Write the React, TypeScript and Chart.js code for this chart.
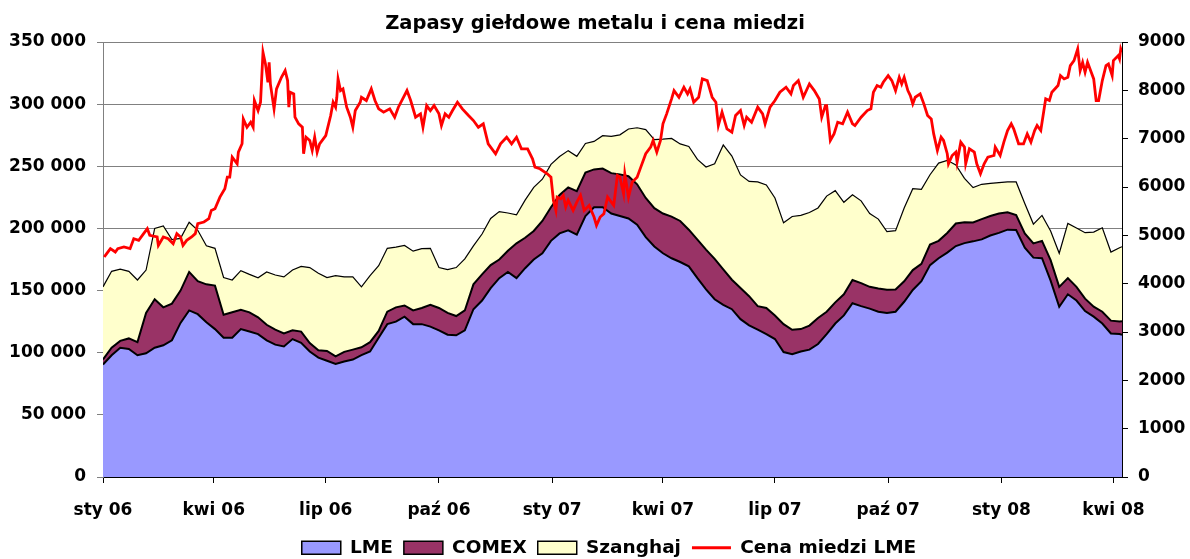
import { useEffect, useRef } from 'react';
import { Chart, registerables } from 'chart.js';

Chart.register(...registerables);

const TITLE = 'Zapasy giełdowe metalu i cena miedzi';

// x axis: days since 1 Jan 2006
const tickDays = [0, 90, 181, 273, 365, 455, 546, 638, 730, 821];
const tickLabels = ['sty 06', 'kwi 06', 'lip 06', 'paź 06', 'sty 07', 'kwi 07', 'lip 07', 'paź 07', 'sty 08', 'kwi 08'];

// weekly stock observations (days since 1 Jan 2006)
const stockDays = [
  0, 7, 14, 21, 28, 35, 42, 49, 56, 63, 70, 77, 84, 91, 98, 105, 112, 119, 126, 133,
  140, 147, 154, 161, 168, 175, 182, 189, 196, 203, 210, 217, 224, 231, 238, 245, 252, 259, 266, 273,
  280, 287, 294, 301, 308, 315, 322, 329, 336, 343, 350, 357, 364, 371, 378, 385, 392, 399, 406, 413,
  420, 427, 434, 441, 448, 455, 462, 469, 476, 483, 490, 497, 504, 511, 518, 525, 532, 539, 546, 553,
  560, 567, 574, 581, 588, 595, 602, 609, 616, 623, 630, 637, 644, 651, 658, 665, 672, 679, 686, 693,
  700, 707, 714, 721, 728, 735, 742, 749, 756, 763, 770, 777, 784, 791, 798, 805, 812, 819, 826, 828,
];

const lme = [
  90500, 98000, 104000, 103000, 98000, 99500, 104000, 106000, 110000, 124000,
  134000, 131000, 124500, 119000, 112000, 112000, 119000, 117000, 115000, 110000,
  106500, 105000, 111000, 108000, 101000, 96000, 93500, 91000, 93000, 94500,
  98000, 101000, 112000, 123000, 125000, 129000, 123000, 123000, 121000, 118000,
  114500, 114000, 118000, 135000, 142000, 152000, 160000, 165000, 160000, 168000,
  175000, 180000, 190000, 196000, 198500, 195000, 210000, 217000, 217000, 212000,
  210000, 208000, 203000, 193000, 185500, 180000, 176000, 173000, 169500, 160000,
  151000, 143000, 138500, 135000, 127000, 122000, 118500, 115000, 111000, 100500,
  98800, 101000, 102500, 107000, 115000, 123500, 130000, 139800, 137500, 135500,
  133000, 132000, 133000, 141000, 150500, 157500, 170500, 176000, 180500, 185800,
  188200, 189600, 191200, 194300, 196400, 199000, 198700, 184500, 176500, 176000,
  158000, 137000, 147000, 142000, 133500, 129000, 123500, 115500, 115000, 114400,
];

const comex = [
  4100, 6000, 5500, 8500, 10500, 32500, 39000, 30500, 29500, 26000,
  31000, 26500, 30500, 35000, 18500, 20500, 15500, 15500, 13500, 12500,
  12000, 10500, 7000, 9000, 6700, 6000, 7900, 6000, 7700, 8000,
  6400, 7500, 5500, 10000, 11500, 9000, 11000, 13000, 17500, 18000,
  17500, 15500, 16000, 20000, 21000, 18500, 15000, 17000, 28000, 24500,
  23000, 26000, 27000, 31000, 34500, 35000, 35000, 30500, 31200, 32500,
  33500, 34000, 32500, 31500, 30800, 32000, 33500, 33000, 29500, 31000,
  32000, 32500, 28500, 23700, 25000, 23500, 19000, 21000, 19000, 22500,
  19600, 18000, 19300, 21000, 18000, 17000, 17000, 18700, 18500, 17500,
  18600, 18700, 17800, 16500, 16000, 14000, 16500, 14000, 15800, 18200,
  16800, 15200, 16300, 15700, 15600, 14000, 12000, 11500, 11500, 14000,
  16500, 16000, 13000, 11000, 10000, 8000, 9500, 10300, 10200, 11000,
];

const szanghaj = [
  58400, 61500, 57800, 54000, 50000, 34500, 57000, 65500, 51500, 42000,
  40000, 41000, 31000, 30000, 30000, 26000, 31500, 30500, 31800, 42500,
  44000, 45500, 48500, 52500, 60800, 62000, 59100, 65000, 60300, 58500,
  48600, 53500, 52500, 51000, 48500, 48300, 47700, 47700, 45500, 32500,
  34800, 39000, 41500, 31000, 32500, 37500, 38500, 30400, 23000, 30300,
  35000, 33600, 34500, 30800, 29600, 28000, 23400, 22500, 26400, 29500,
  31800, 38000, 45500, 55000, 55200, 59800, 62900, 62000, 67000, 64500,
  66400, 76500, 100200, 99500, 91000, 92300, 99900, 99000, 94500, 81500,
  91200, 91500, 91000, 88500, 93000, 89900, 74000, 68500, 66200, 59000,
  55900, 46800, 47400, 59000, 65500, 60000, 56200, 62600, 58500, 47000,
  35300, 28000, 28000, 26300, 24900, 24400, 26700, 24000, 15500, 20500,
  23500, 27000, 44000, 47400, 53100, 60000, 67500, 55200, 59300, 59900,
];

// LME copper price (USD/t), days since 1 Jan 2006
const priceDays = [
  1, 3, 6, 10, 12, 17, 22, 25, 29, 33, 36, 38, 44, 45, 49, 53, 57, 60, 63, 65,
  68, 72, 75, 77, 82, 86, 88, 91, 95, 99, 101, 103, 105, 109, 110, 113, 114, 117, 120, 122,
  123, 126, 128, 130, 132, 134, 135, 136, 139, 141, 145, 148, 150, 151, 152, 155, 156, 159, 162, 163,
  165, 168, 170, 172, 174, 176, 181, 185, 187, 189, 190, 191, 193, 195, 198, 201, 203, 205, 209, 210,
  214, 218, 221, 224, 228, 233, 237, 240, 247, 250, 254, 258, 260, 263, 266, 269, 273, 275, 278, 281,
  284, 288, 292, 297, 301, 305, 309, 313, 319, 323, 328, 332, 336, 340, 345, 349, 351, 355, 361, 364,
  366, 368, 369, 372, 374, 376, 378, 382, 385, 388, 391, 395, 399, 401, 404, 407, 410, 412, 415, 418,
  420, 423, 424, 427, 430, 434, 437, 441, 445, 447, 450, 453, 455, 458, 462, 464, 468, 472, 475, 477,
  480, 484, 487, 491, 495, 498, 500, 503, 507, 511, 514, 518, 521, 523, 527, 532, 536, 538, 542, 546,
  550, 555, 559, 561, 565, 569, 574, 578, 582, 584, 587, 588, 591, 594, 597, 601, 605, 609, 611, 616,
  621, 624, 626, 629, 632, 634, 638, 641, 644, 647, 649, 651, 654, 656, 658, 660, 664, 667, 670, 673,
  675, 678, 681, 683, 686, 687, 690, 693, 694, 697, 700, 701, 704, 708, 710, 713, 716, 719, 724, 725,
  729, 732, 735, 738, 740, 744, 748, 751, 754, 757, 759, 762, 766, 769, 771, 776, 778, 781, 784, 786,
  789, 792, 794, 796, 798, 800, 803, 805, 807, 809, 812, 815, 817, 820, 821, 825, 826, 827, 828,
];

const priceLME = [
  4551, 4621, 4725, 4655, 4725, 4759, 4725, 4931, 4897, 5035, 5138, 5000, 4966, 4793, 4966, 4931, 4828, 5035, 4966, 4793,
  4897, 4966, 5035, 5241, 5276, 5345, 5516, 5551, 5791, 5964, 6204, 6204, 6618, 6481, 6721, 6894, 7410, 7237, 7341, 7237,
  7789, 7582, 7754, 8787, 8547, 8167, 8580, 8134, 7617, 8030, 8270, 8409, 8202, 7651, 7961, 7926, 7444, 7307, 7237, 6688,
  7030, 6962, 6756, 7030, 6721, 6894, 7065, 7479, 7754, 7651, 7857, 8236, 7995, 8030, 7651, 7444, 7237, 7582, 7754, 7857,
  7789, 8030, 7789, 7617, 7548, 7617, 7444, 7651, 7995, 7789, 7444, 7513, 7237, 7685, 7582, 7685, 7513, 7272, 7513, 7444,
  7582, 7754, 7617, 7479, 7375, 7237, 7307, 6894, 6688, 6894, 7030, 6894, 7030, 6790, 6790, 6584, 6412, 6377, 6274, 6204,
  5723, 5516, 5791, 5757, 5826, 5585, 5723, 5516, 5688, 5826, 5516, 5620, 5379, 5206, 5379, 5448, 5791, 5723, 5620, 6239,
  6204, 5860, 6274, 5791, 6101, 6204, 6411, 6688, 6825, 6962, 6721, 6962, 7307, 7513, 7824, 7995, 7857, 8064, 7926, 8030,
  7754, 7857, 8236, 8202, 7857, 7754, 7272, 7548, 7203, 7134, 7479, 7582, 7272, 7444, 7341, 7651, 7513, 7307, 7651, 7789,
  7961, 8064, 7926, 8099, 8202, 7857, 8133, 7995, 7822, 7444, 7685, 7685, 6962, 7099, 7341, 7307, 7548, 7307, 7272, 7444,
  7582, 7617, 7961, 8099, 8064, 8167, 8305, 8202, 7995, 8270, 8133, 8270, 7995, 7892, 7720, 7857, 7926, 7720, 7479, 7410,
  7099, 6756, 7030, 6962, 6688, 6481, 6652, 6721, 6515, 6928, 6825, 6481, 6790, 6721, 6481, 6274, 6481, 6618, 6652, 6825,
  6652, 6928, 7168, 7307, 7203, 6894, 6894, 7099, 6928, 7168, 7272, 7168, 7824, 7789, 7961, 8099, 8305, 8236, 8270, 8512,
  8615, 8857, 8409, 8580, 8374, 8580, 8374, 8236, 7789, 7789, 8202, 8512, 8547, 8305, 8615, 8719, 8650, 8857, 8787,
];

const FONT = "'DejaVu Sans', 'Liberation Sans', sans-serif";

const fmtThousands = (v: number) => String(v).replace(/\B(?=(\d{3})+(?!\d))/g, ' ');

export default function App() {
  const canvasRef = useRef<HTMLCanvasElement | null>(null);

  useEffect(() => {
    document.body.style.margin = '0';
    const canvas = canvasRef.current;
    if (!canvas) return;

    const toXY = (xs: number[], ys: number[]) => xs.map((x, i) => ({ x, y: ys[i] }));

    const shiftLegend = {
      id: 'shiftLegend',
      afterLayout(chart: any) {
        const lg = chart.legend;
        if (lg) {
          lg.left += 14;
          lg.right += 14;
        }
      },
    };

    const chart = new Chart(canvas, {
      type: 'line',
      data: {
        datasets: [
          {
            label: 'LME',
            data: toXY(stockDays, lme),
            yAxisID: 'y',
            backgroundColor: '#9999FF',
            borderColor: '#000000',
            borderWidth: 2,
            fill: 'origin',
            pointRadius: 0,
            tension: 0,
            order: 1,
          },
          {
            label: 'COMEX',
            data: toXY(stockDays, comex),
            yAxisID: 'y',
            backgroundColor: '#993366',
            borderColor: '#000000',
            borderWidth: 2,
            fill: '-1',
            pointRadius: 0,
            tension: 0,
            order: 2,
          },
          {
            label: 'Szanghaj',
            data: toXY(stockDays, szanghaj),
            yAxisID: 'y',
            backgroundColor: '#FFFFCC',
            borderColor: '#000000',
            borderWidth: 1.2,
            fill: '-1',
            pointRadius: 0,
            tension: 0,
            order: 3,
          },
          {
            label: 'Cena miedzi LME',
            data: toXY(priceDays, priceLME),
            yAxisID: 'y2',
            backgroundColor: '#FF0000',
            borderColor: '#FF0000',
            borderWidth: 2.8,
            fill: false,
            pointRadius: 0,
            tension: 0,
            order: 0,
          },
        ],
      } as any,
      options: {
        animation: false,
        responsive: false,
        maintainAspectRatio: false,
        devicePixelRatio: 1,
        layout: { padding: { left: 0, right: 0, top: 0, bottom: -8 } },
        plugins: {
          title: {
            display: true,
            text: TITLE,
            color: '#000000',
            font: { family: FONT, weight: 'bold', size: 19.5 },
            padding: { top: 12, bottom: 6.6 },
          },
          legend: {
            display: true,
            position: 'bottom',
            labels: {
              usePointStyle: true,
              pointStyleWidth: 39,
              boxHeight: 13,
              padding: 11,
              color: '#000000',
              font: { family: FONT, weight: 'bold', size: 18.5 },
              generateLabels: (c: any) =>
                c.data.datasets.map((ds: any, i: number) => ({
                  text: ds.label,
                  fillStyle: ds.backgroundColor,
                  strokeStyle: ds.borderColor,
                  lineWidth: i === 3 ? 3 : 1.5,
                  pointStyle: i === 3 ? 'line' : 'rect',
                  hidden: false,
                  datasetIndex: i,
                  fontColor: '#000000',
                })),
            },
          },
          tooltip: { enabled: false },
        },
        scales: {
          x: {
            type: 'linear',
            min: 0,
            max: 828,
            offset: false,
            afterBuildTicks: (s: any) => {
              s.ticks = tickDays.map((v) => ({ value: v }));
            },
            afterFit: (s: any) => {
              s.height = 50.5;
            },
            ticks: {
              autoSkip: false,
              maxRotation: 0,
              minRotation: 0,
              padding: 17,
              color: '#000000',
              font: { family: FONT, weight: 'bold', size: 17 },
              callback: (_v: any, i: number) => tickLabels[i],
            },
            grid: { drawOnChartArea: false, drawTicks: true, tickLength: 6, color: '#000000', lineWidth: 1 },
            border: { display: true, color: '#000000', width: 1 },
          },
          y: {
            position: 'left',
            stacked: true,
            min: 0,
            max: 350000,
            afterFit: (s: any) => {
              s.width = 103;
            },
            ticks: {
              stepSize: 50000,
              padding: 11,
              color: '#000000',
              font: { family: FONT, weight: 'bold', size: 17 },
              callback: (v: any) => fmtThousands(Number(v)),
            },
            grid: { color: '#808080', lineWidth: 1, tickLength: 6, drawTicks: true },
            border: { display: true, color: '#808080', width: 1 },
          },
          y2: {
            position: 'right',
            min: 0,
            max: 9000,
            afterFit: (s: any) => {
              s.width = 68;
            },
            ticks: {
              stepSize: 1000,
              padding: 10,
              color: '#000000',
              font: { family: FONT, weight: 'bold', size: 17 },
              callback: (v: any) => String(v),
            },
            grid: { drawOnChartArea: false, drawTicks: true, tickLength: 6, color: '#000000', lineWidth: 1 },
            border: { display: true, color: '#000000', width: 1 },
          },
        },
      } as any,
      plugins: [shiftLegend],
    });

    return () => {
      chart.destroy();
    };
  }, []);

  return (
    <div style={{ width: 1190, height: 559, background: '#ffffff' }}>
      <canvas ref={canvasRef} width={1190} height={559} style={{ display: 'block' }} />
    </div>
  );
}
